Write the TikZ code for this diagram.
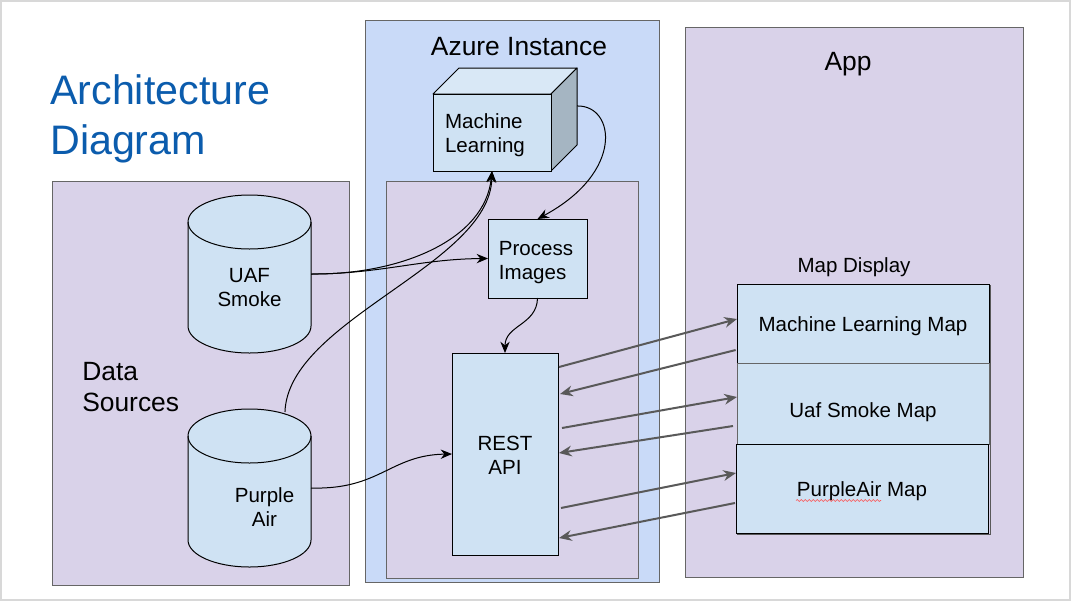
\documentclass[tikz,border=0pt]{standalone}
\usepackage{fontspec}
\setmainfont{Liberation Sans}
\usetikzlibrary{arrows.meta,decorations.pathmorphing}
\definecolor{panelpurple}{HTML}{D9D2E9}
\definecolor{azure}{HTML}{C9DAF8}
\definecolor{lightblue}{HTML}{CFE2F3}
\definecolor{topface}{HTML}{D9E8F6}
\definecolor{sideface}{HTML}{A5B5C2}
\definecolor{titleblue}{HTML}{0B5CAD}
\definecolor{panelline}{HTML}{666666}
\definecolor{arrowgrey}{HTML}{595959}
\definecolor{pageline}{HTML}{D8D8D8}
\newcommand{\fpx}[2]{\fontsize{#1pt}{#2pt}\selectfont}
\newcommand{\lowerleft}[3]{\hspace*{#2}\raisebox{-#1}[\height][\depth]{\begin{tabular}{@{}l@{}}#3\end{tabular}}}
\newcommand{\lowerc}[2]{\raisebox{-#1}[\height][\depth]{\begin{tabular}{@{}c@{}}#2\end{tabular}}}
\tikzset{
  panel/.style={draw=panelline,line width=0.75pt,anchor=north west,inner sep=0pt,outer sep=0pt},
  bluebox/.style={draw=black,fill=lightblue,line width=0.75pt,inner sep=0pt,outer sep=0pt,anchor=north west,align=center,font=\fpx{15.4}{18}},
  cylframe/.style={inner sep=0pt,outer sep=0pt,minimum width=92.25pt,minimum height=118.5pt,anchor=north west},
  cylshape/.style={draw=black,fill=lightblue,line width=0.75pt},
  lab/.style={inner sep=0pt,outer sep=0pt,align=center,font=\fpx{15.4}{18}},
  flow/.style={draw=black,line width=0.75pt,-{Stealth[length=8.5pt,width=7pt]}},
  grey/.style={draw=arrowgrey,line width=1.5pt,-{Stealth[length=9.5pt,width=8pt]}},
}
\begin{document}
\begin{tikzpicture}[x=0.75pt,y=-0.75pt]
\useasboundingbox (0,0) rectangle (1073,603);
\fill[white] (0,0) rectangle (1073,603);
\draw[pageline,line width=1.5pt] (1,1) rectangle (1070,600);
% panels
\node[panel,fill=panelpurple,minimum width=222.75pt,minimum height=303pt] (sources) at (52,181) {};
\node[panel,fill=azure,minimum width=220.5pt,minimum height=421.5pt] (azure) at (365,20) {};
\node[panel,fill=panelpurple,minimum width=189pt,minimum height=297.75pt] (inner) at (386,181) {};
\node[panel,fill=panelpurple,minimum width=253.5pt,minimum height=412.5pt] (app) at (685,27) {};
% titles
\node[inner sep=0pt,anchor=north west,align=left,text=titleblue,font=\fpx{30.9}{37.5}] (title) at (50,74) {Architecture\\Diagram};
\node[lab,font=\fpx{19.8}{24}] (azuret) at (519,46.5) {Azure Instance};
\node[lab,font=\fpx{19.8}{24}] (appt) at (848,64) {App};
\node[inner sep=0pt,anchor=west,align=left,font=\fpx{19.8}{23.6}] (dst) at (82,387) {Data\\Sources};
\node[lab] (mapt) at (854,267) {Map Display};
% cube
\fill[topface,draw=black,line width=0.75pt,line join=round] (433,94) -- (459,68) -- (577,68) -- (551,94) -- cycle;
\fill[sideface,draw=black,line width=0.75pt,line join=round] (551,94) -- (577,68) -- (577,145) -- (551,171) -- cycle;
\node[bluebox,minimum width=88.5pt,minimum height=57.75pt,text width=88.5pt,align=left] (ml) at (433,94) {\lowerleft{2.25pt}{9pt}{Machine\\Learning}};
% cylinders
\foreach \nm/\yy in {uaf/195,pa/409}{
  \node[cylframe] (\nm) at (188,\yy) {};
  \path[cylshape] (\nm.north west) ++(0,27) arc[start angle=180,end angle=0,x radius=46.125pt,y radius=20.25pt]
     -- ++(0,104) arc[start angle=0,end angle=-180,x radius=46.125pt,y radius=20.25pt] -- cycle;
  \draw[line width=0.75pt] (\nm.north west) ++(0,27) arc[start angle=180,end angle=360,x radius=46.125pt,y radius=20.25pt];
}
\node[lab] (uaft) at (249.5,288) {UAF\\Smoke};
\node[lab] (pat) at (264.5,507) {Purple\\Air};
% boxes
\node[bluebox,minimum width=74.25pt,minimum height=59.25pt,text width=74.25pt,align=left] (proc) at (488,219) {\lowerleft{3pt}{8.2pt}{Process\\Images}};
\node[bluebox,minimum width=79.5pt,minimum height=151.5pt] (rest) at (452,353) {\lowerc{3pt}{REST\\API}};
\node[draw=arrowgrey,line width=0.9pt,minimum width=189.6pt,minimum height=186.6pt,inner sep=0pt,anchor=north west] (mapbox) at (737,285) {};
\node[bluebox,minimum width=189pt,minimum height=59.25pt] (mlmap) at (737,284) {\lowerc{2.25pt}{Machine Learning Map}};
\node[bluebox,draw=panelline,minimum width=189pt,minimum height=60.75pt] (uafmap) at (737,363) {\lowerc{6.75pt}{Uaf Smoke Map}};
\node[bluebox,minimum width=189pt,minimum height=66.75pt] (pamap) at (736,444) {\lowerc{2.25pt}{PurpleAir Map}};
\draw[red!70,line width=0.45pt,decorate,decoration={snake,amplitude=0.7pt,segment length=3pt}] ([xshift=-49.5pt,yshift=-9pt]pamap.center) -- ([xshift=14.25pt,yshift=-9pt]pamap.center);
% black connectors
\draw[flow] (uaf.east) .. controls (400,275) and (485,240) .. (ml.south);
\draw[flow] (uaf.east) .. controls (380,274) and (420,259) .. (proc.west);
\draw[flow] ([xshift=26.6pt,yshift=-2.25pt]pa.north) .. controls (288,320) and (490,265) .. (ml.south);
\draw[flow] (pa.east) .. controls (380,490) and (390,455) .. (rest.west);
\draw[flow] ([xshift=19.5pt,yshift=19.9pt]ml.east) .. controls (615,105) and (625,172) .. (proc.north);
\draw[flow] (proc.south) .. controls (537,325) and (505,325) .. (rest.north);
% grey connectors
\draw[grey] ([xshift=0.75pt,yshift=-10.5pt]rest.north east) -- ([yshift=-26.25pt]mlmap.north west);
\draw[grey] ([xshift=-1pt,yshift=-49.5pt]mlmap.north west) -- ([xshift=1.5pt,yshift=-30.75pt]rest.north east);
\draw[grey] ([xshift=3pt,yshift=-56.25pt]rest.north east) -- ([yshift=-25.5pt]uafmap.north west);
\draw[grey] ([xshift=-3pt,yshift=-47.25pt]uafmap.north west) -- ([xshift=0.75pt,yshift=-75pt]rest.north east);
\draw[grey] ([xshift=2.25pt,yshift=-116.25pt]rest.north east) -- ([yshift=-21.75pt]pamap.north west);
\draw[grey] ([xshift=-0.75pt,yshift=-44.25pt]pamap.north west) -- ([xshift=0.75pt,yshift=-138.75pt]rest.north east);
\end{tikzpicture}
\end{document}
